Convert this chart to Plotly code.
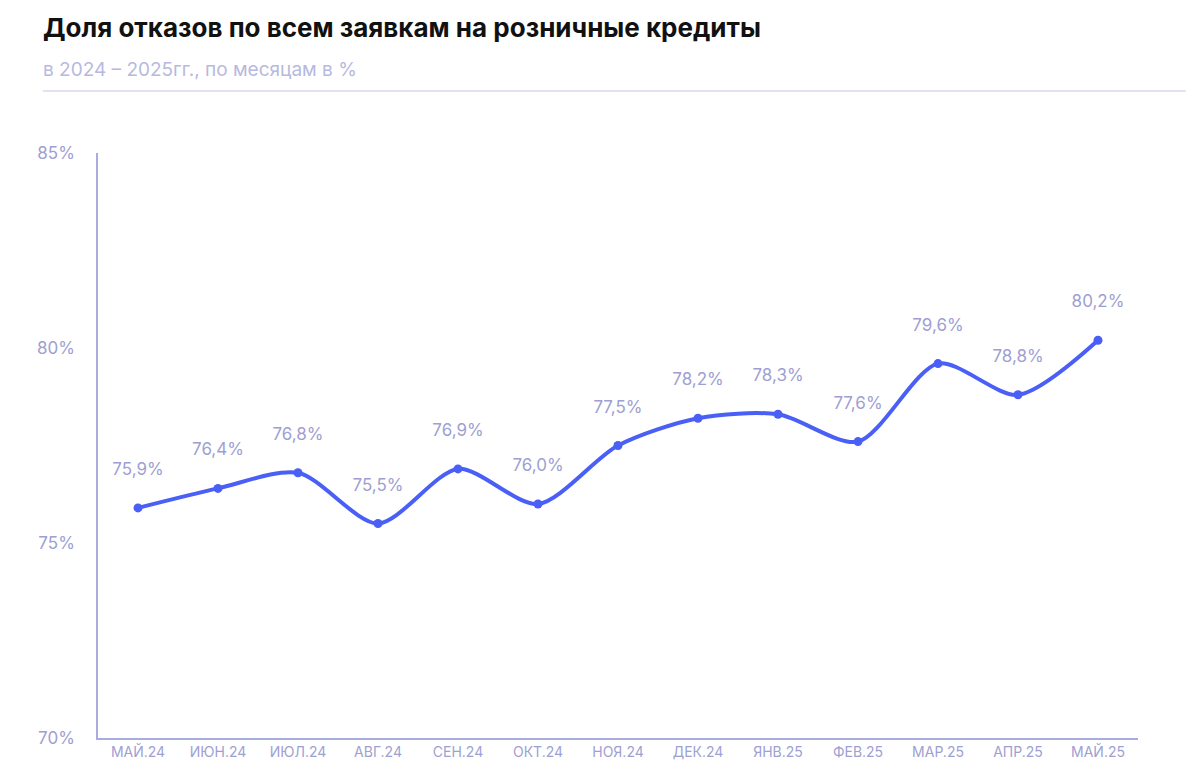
import plotly.graph_objects as go

months = ["МАЙ.24", "ИЮН.24", "ИЮЛ.24", "АВГ.24", "СЕН.24", "ОКТ.24", "НОЯ.24",
          "ДЕК.24", "ЯНВ.25", "ФЕВ.25", "МАР.25", "АПР.25", "МАЙ.25"]
share = [75.9, 76.4, 76.8, 75.5, 76.9, 76.0, 77.5, 78.2, 78.3, 77.6, 79.6, 78.8, 80.2]
y_ticks = [70, 75, 80, 85]

LINE = "#4a5ff5"
AXIS = "#a9acdf"
TEXT = "#9ea0d2"
FONT = "Inter, Roboto, sans-serif"

labels = [f"{v:.1f}%".replace(".", ",") + "<br> " for v in share]

fig = go.Figure(go.Scatter(
    x=months, y=share, mode="lines+markers+text",
    line=dict(color=LINE, width=4, shape="spline", smoothing=0.8),
    marker=dict(color=LINE, size=9),
    text=labels, textposition="top center",
    textfont=dict(color=TEXT, size=17, family=FONT),
    cliponaxis=False, showlegend=False,
))

fig.update_layout(
    width=1200, height=780,
    margin=dict(l=90, r=70, t=145, b=50),
    plot_bgcolor="white", paper_bgcolor="white",
    font=dict(family=FONT, color=TEXT),
    xaxis=dict(range=[-0.5, 12.5], showgrid=False, showline=True, linecolor=AXIS,
               linewidth=1.5, ticks="", tickfont=dict(size=14, color=TEXT), tickangle=0),
    yaxis=dict(range=[70, 85], tickvals=y_ticks, ticktext=[f"{t}%" for t in y_ticks],
               showgrid=False, showline=True, linecolor=AXIS, linewidth=1.5,
               ticks="", ticklabelstandoff=18, tickfont=dict(size=17, color=TEXT),
               zeroline=False),
    shapes=[dict(type="line", xref="paper", yref="paper", x0=-0.053, x1=1.046,
                 y0=1.106, y1=1.106, line=dict(color="#c4c6e8", width=1.2))],
    annotations=[
        dict(text="<b>Доля отказов по всем заявкам на розничные кредиты</b>",
             xref="paper", yref="paper", x=-0.055, y=1.214, xanchor="left", yanchor="middle",
             showarrow=False, font=dict(size=26, color="#111111", family=FONT)),
        dict(text="в 2024 – 2025гг., по месяцам в %",
             xref="paper", yref="paper", x=-0.055, y=1.142, xanchor="left", yanchor="middle",
             showarrow=False, font=dict(size=19, color="#b7b9e0", family=FONT)),
    ],
)

fig.write_html("out.html")
